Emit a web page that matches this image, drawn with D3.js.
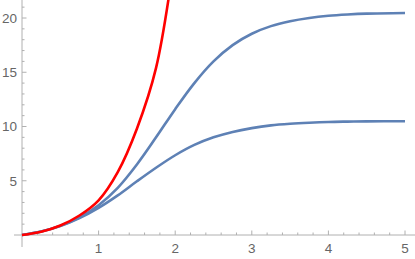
<!DOCTYPE html>
<html><head><meta charset="utf-8">
<script src="https://cdn.jsdelivr.net/npm/d3@7"></script>
<style>html,body{margin:0;padding:0;background:#fff;}svg{display:block;}</style>
</head><body>
<script>
// data
const xs = [0,0.25,0.5,0.75,1,1.25,1.5,1.75,2,2.25,2.5,2.75,3,3.25,3.5,3.75,4,4.25,4.5,5];
const upperBlue = [0,0.32,0.84,1.62,2.75,4.35,6.5,9.0,11.6,14.0,16.0,17.5,18.55,19.25,19.7,20.0,20.2,20.32,20.4,20.46];
const lowerBlue = [0,0.32,0.82,1.55,2.5,3.65,4.95,6.2,7.35,8.3,9.0,9.5,9.85,10.1,10.25,10.35,10.42,10.45,10.47,10.49];
const redX = [0,0.25,0.5,0.75,1,1.25,1.5,1.75,2];
const redY = [0,0.3,0.88,1.8,3.2,5.8,9.8,15.4,26];
const xMajor = [1,2,3,4,5];
const yMajor = [5,10,15,20];

const W = 415, H = 259;
const svg = d3.select("body").append("svg").attr("width", W).attr("height", H);
const x = d3.scaleLinear().domain([0,5]).range([22,405]);
const y = d3.scaleLinear().domain([0,20]).range([235,18]);

const axisColor = "#b0b0b0";
const labelColor = "#666";

// axes
svg.append("line").attr("x1", 14).attr("x2", W).attr("y1", y(0)).attr("y2", y(0))
  .attr("stroke", axisColor).attr("stroke-width", 1);
svg.append("line").attr("x1", x(0)).attr("x2", x(0)).attr("y1", 0).attr("y2", 247)
  .attr("stroke", axisColor).attr("stroke-width", 1);

// x ticks
const xMinor = d3.range(1, 27).map(i => i * 0.2).filter(v => x(v) < W);
svg.append("g").selectAll("line").data(xMinor).join("line")
  .attr("x1", d => x(d)).attr("x2", d => x(d))
  .attr("y1", y(0)).attr("y2", d => y(0) - (xMajor.some(m => Math.abs(m - d) < 1e-6) ? 4.5 : 2.5))
  .attr("stroke", axisColor).attr("stroke-width", 1);
svg.append("g").selectAll("text").data(xMajor).join("text")
  .attr("x", d => x(d)).attr("y", 253).attr("text-anchor", "middle")
  .attr("font-family", "Liberation Sans, Arial, sans-serif").attr("font-size", 13.5)
  .attr("fill", labelColor).text(d => d);

// y ticks
const yMinor = d3.range(1, 22);
svg.append("g").selectAll("line").data(yMinor).join("line")
  .attr("y1", d => y(d)).attr("y2", d => y(d))
  .attr("x1", x(0)).attr("x2", d => x(0) + (yMajor.includes(d) ? 4.5 : 2.5))
  .attr("stroke", axisColor).attr("stroke-width", 1);
svg.append("g").selectAll("text").data(yMajor).join("text")
  .attr("x", 17).attr("y", d => y(d) + 4.8).attr("text-anchor", "end")
  .attr("font-family", "Liberation Sans, Arial, sans-serif").attr("font-size", 13.5)
  .attr("fill", labelColor).text(d => d);

// curves
svg.append("clipPath").attr("id", "clip").append("rect")
  .attr("x", 0).attr("y", 0).attr("width", W).attr("height", H);
const g = svg.append("g").attr("clip-path", "url(#clip)");
const line = d3.line().x(d => x(d[0])).y(d => y(d[1])).curve(d3.curveCatmullRom.alpha(0.5));

g.append("path").datum(xs.map((v, i) => [v, lowerBlue[i]])).attr("d", line)
  .attr("fill", "none").attr("stroke", "#5E81B5").attr("stroke-width", 2.6);
g.append("path").datum(xs.map((v, i) => [v, upperBlue[i]])).attr("d", line)
  .attr("fill", "none").attr("stroke", "#5E81B5").attr("stroke-width", 2.6);
g.append("path").datum(redX.map((v, i) => [v, redY[i]])).attr("d", line)
  .attr("fill", "none").attr("stroke", "#FF0000").attr("stroke-width", 2.6);
</script>
</body></html>
